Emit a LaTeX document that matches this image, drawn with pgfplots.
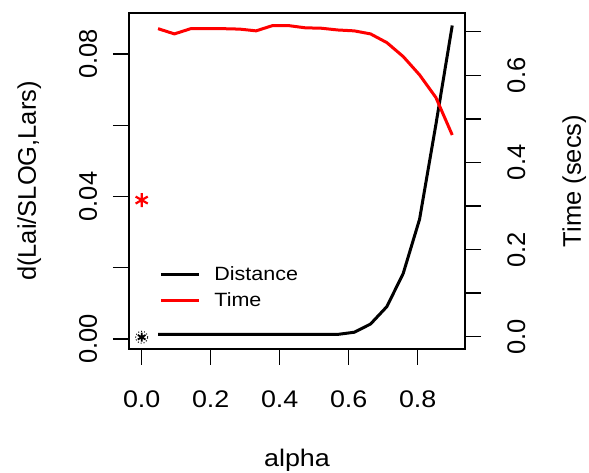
\documentclass[border=0pt]{standalone}
\usepackage{fontspec}
\setmainfont{Liberation Sans}
\newfontfamily\hfontfam[FakeStretch=1.12]{Liberation Sans}
\newcommand\hfont{\hfontfam\fontsize{24}{28}\selectfont}
\newcommand\vfont{\fontsize{25.5}{30}\selectfont}
\newcommand\lfont{\hfontfam\fontsize{19.2}{22}\selectfont}
\usepackage{pgfplots}
\pgfplotsset{compat=1.18}
\begin{document}
\begin{tikzpicture}
\useasboundingbox (-129pt,-124pt) rectangle (460pt,349pt);
\begin{axis}[
  name=ax1, at={(0pt,0pt)}, anchor=south west,
  scale only axis, width=336pt, height=336pt,
  xmin=-0.0368, xmax=0.937, ymin=-0.0028, ymax=0.0915,
  scaled x ticks=false, scaled y ticks=false,
  xtick={0,0.2,0.4,0.6,0.8}, xticklabels={0.0,0.2,0.4,0.6,0.8},
  ytick={0,0.02,0.04,0.06,0.08}, yticklabels={0.00,,0.04,,0.08},
  xtick pos=left, ytick pos=left, tick align=outside,
  major tick length=16pt, minor tick num=0,
  /pgf/number format/assume math mode=true,
  axis line style={line width=1.4pt},
  every tick/.style={line width=1.4pt, black},
  xticklabel style={font=\hfont, anchor=base},
  xticklabel shift=43pt,
  yticklabel style={font=\vfont, rotate=90, anchor=base},
  yticklabel shift=16pt,
  xlabel={alpha},
  xlabel style={font=\hfont, at={(axis description cs:0.5,-0.351)}, anchor=base},
  ylabel={d(Lai/SLOG,Lars)},
  ylabel style={font=\vfont, at={(axis description cs:-0.277,0.5)}, anchor=base, rotate=0},
  legend style={draw=none, fill=none, font=\lfont, at={(axis description cs:0.09,0.252)}, anchor=north west, row sep=7pt, inner sep=0pt,
    /tikz/every odd column/.append style={column sep=12pt}},
  legend cell align=left,
  legend image code/.code={\draw[#1] (0pt,0pt) -- (38pt,0pt);},
]
\addplot[black, line width=3pt] coordinates {
(0.04737,0.0013) (0.09474,0.0013) (0.14211,0.0013) (0.18947,0.0013) (0.23684,0.0013)
(0.28421,0.0013) (0.33158,0.0013) (0.37895,0.0013) (0.42632,0.0013) (0.47368,0.0013)
(0.52105,0.0013) (0.56842,0.0013) (0.61579,0.0019) (0.66316,0.0042) (0.71053,0.0091)
(0.75789,0.0184) (0.80526,0.0336) (0.85263,0.0602) (0.9,0.0880)};
\addlegendentry{Distance}
\addlegendimage{red, line width=3pt}
\addlegendentry{Time}
\addplot[red, only marks, mark=asterisk, mark size=7pt, line width=2.2pt, forget plot] coordinates {(0,0.039)};
\addplot[black, only marks, mark=asterisk, mark size=4.5pt, line width=1.8pt, forget plot] coordinates {(0,0.0005)};
\addplot[black, only marks, mark=o, mark size=6pt, line width=1pt, mark options={dotted}, forget plot] coordinates {(0,0.0005)};
\end{axis}
\begin{axis}[
  name=ax2, at={(0pt,0pt)}, anchor=south west,
  scale only axis, width=336pt, height=336pt,
  xmin=-0.0368, xmax=0.937, ymin=-0.0282, ymax=0.743,
  scaled x ticks=false, scaled y ticks=false,
  axis x line=none, axis y line*=right,
  ytick={0,0.1,0.2,0.3,0.4,0.5,0.6,0.7}, yticklabels={0.0,,0.2,,0.4,,0.6,},
  tick align=outside, major tick length=16pt, minor tick num=0,
  /pgf/number format/assume math mode=true,
  axis line style={line width=1.4pt},
  every tick/.style={line width=1.4pt, black},
  yticklabel style={font=\vfont, rotate=90, anchor=base},
  yticklabel shift=44pt,
  ylabel={Time (secs)},
  ylabel style={font=\vfont, at={(axis description cs:1.345,0.5)}, anchor=base, rotate=0},
]
\addplot[red, line width=3pt] coordinates {
(0.04737,0.707) (0.09474,0.695) (0.14211,0.707) (0.18947,0.707) (0.23684,0.707)
(0.28421,0.706) (0.33158,0.702) (0.37895,0.714) (0.42632,0.714) (0.47368,0.709)
(0.52105,0.708) (0.56842,0.704) (0.61579,0.702) (0.66316,0.695) (0.71053,0.675)
(0.75789,0.643) (0.80526,0.601) (0.85263,0.549) (0.9,0.463)};
\end{axis}
\end{tikzpicture}
\end{document}
